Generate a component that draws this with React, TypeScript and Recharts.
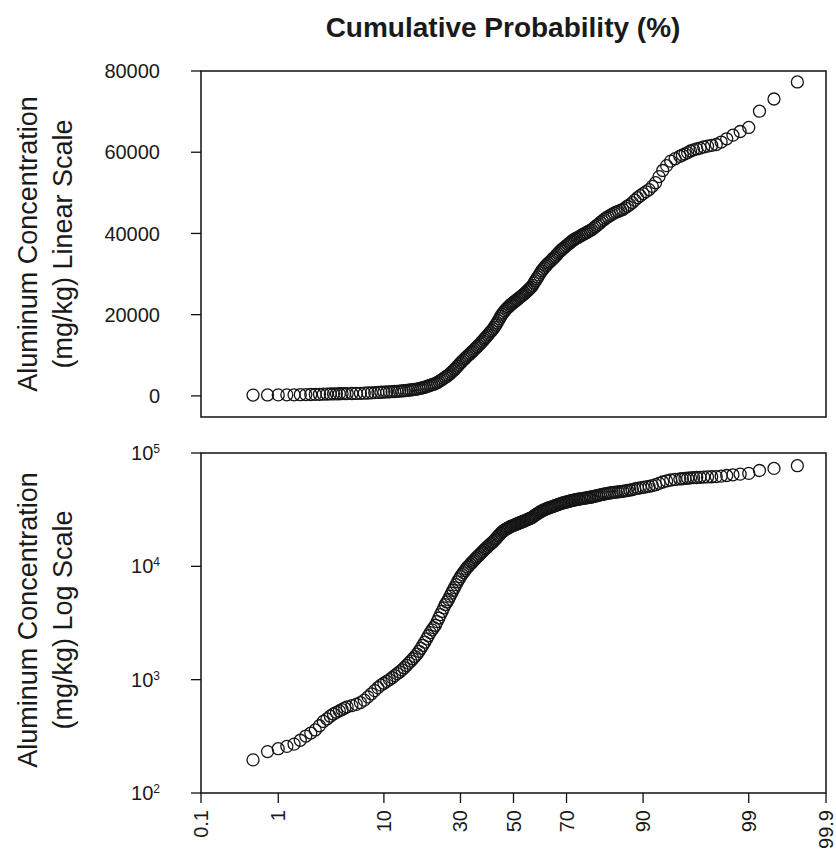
import { ScatterChart, Scatter, XAxis, YAxis, ReferenceArea } from 'recharts';

const FONT = '"Liberation Sans", Arial, sans-serif';
const INK = '#1a1a1a';

// x axis: cumulative probability (%) on a normal-probability scale
const probTicks = [0.1, 1, 10, 30, 50, 70, 90, 99, 99.9];
const probTickLabels = ['0.1', '1', '10', '30', '50', '70', '90', '99', '99.9'];
const linearTicks = [0, 20000, 40000, 60000, 80000];
const logTicks = [100, 1000, 10000, 100000];

// plotting positions (%)
const cumulativePct = [
  0.5, 0.75, 1, 1.25, 1.5, 1.75, 2, 2.25, 2.5, 2.75, 3, 3.25, 3.5, 3.75, 4, 4.25, 4.5, 4.75,
  5, 5.5, 6, 6.5, 7, 7.5, 8, 8.5, 9, 9.5,
  10, 10.5, 11, 11.5, 12, 12.5, 13, 13.5, 14, 14.5,
  15, 15.5, 16, 16.5, 17, 17.5, 18, 18.5, 19, 19.5,
  20, 20.5, 21, 21.5, 22, 22.5, 23, 23.5, 24, 24.5,
  25, 25.5, 26, 26.5, 27, 27.5, 28, 28.5, 29, 29.5,
  30, 30.5, 31, 31.5, 32, 32.5, 33, 33.5, 34, 34.5,
  35, 35.5, 36, 36.5, 37, 37.5, 38, 38.5, 39, 39.5,
  40, 40.5, 41, 41.5, 42, 42.5, 43, 43.5, 44, 44.5,
  45, 45.5, 46, 46.5, 47, 47.5, 48, 48.5, 49, 49.5,
  50, 50.5, 51, 51.5, 52, 52.5, 53, 53.5, 54, 54.5,
  55, 55.5, 56, 56.5, 57, 57.5, 58, 58.5, 59, 59.5,
  60, 60.5, 61, 61.5, 62, 62.5, 63, 63.5, 64, 64.5,
  65, 65.5, 66, 66.5, 67, 67.5, 68, 68.5, 69, 69.5,
  70, 70.5, 71, 71.5, 72, 72.5, 73, 73.5, 74, 74.5,
  75, 75.5, 76, 76.5, 77, 77.5, 78, 78.5, 79, 79.5,
  80, 80.5, 81, 81.5, 82, 82.5, 83, 83.5, 84, 84.5,
  85, 85.5, 86, 86.5, 87, 87.5, 88, 88.5, 89, 89.5,
  90, 90.5, 91, 91.5, 92, 92.5, 93, 93.5, 94, 94.5,
  95, 95.25, 95.5, 95.75, 96, 96.25, 96.5, 96.75, 97, 97.25, 97.5, 97.75,
  98, 98.25, 98.5, 98.75, 99, 99.25, 99.5, 99.75,
];

// aluminum concentration (mg/kg), same order as cumulativePct
const aluminumMgKg = [
  196, 232, 246, 258, 270, 292, 318, 338, 360, 392, 428, 450, 476, 498, 515, 530, 545, 562,
  575, 590, 605, 628, 660, 705, 750, 800, 850, 895,
  930, 965, 1000, 1040, 1085, 1130, 1170, 1220, 1275, 1335,
  1400, 1460, 1530, 1600, 1680, 1780, 1890, 2010, 2140, 2290,
  2440, 2600, 2750, 2880, 3020, 3250, 3500, 3750, 4000, 4300,
  4600, 4850, 5100, 5450, 5800, 6150, 6500, 6900, 7300, 7700,
  8100, 8450, 8800, 9150, 9500, 9850, 10150, 10450, 10800, 11100,
  11450, 11800, 12100, 12450, 12800, 13150, 13500, 13900, 14250, 14600,
  15000, 15400, 15750, 16100, 16500, 16950, 17450, 17950, 18500, 19000,
  19600, 20100, 20500, 20900, 21300, 21600, 21900, 22200, 22500, 22750,
  23000, 23250, 23500, 23750, 24000, 24250, 24500, 24750, 25000, 25300,
  25600, 25900, 26200, 26500, 26800, 27200, 27800, 28300, 28800, 29300,
  29800, 30300, 30800, 31200, 31600, 32000, 32350, 32700, 33000, 33300,
  33650, 34000, 34300, 34700, 35100, 35450, 35800, 36100, 36400, 36700,
  37000, 37300, 37600, 37900, 38200, 38450, 38700, 38900, 39100, 39350,
  39550, 39800, 40000, 40250, 40450, 40700, 40900, 41250, 41600, 41950,
  42300, 42700, 43100, 43450, 43800, 44100, 44400, 44700, 45000, 45250,
  45450, 45700, 45900, 46300, 46700, 47100, 47600, 48200, 48800, 49300,
  49800, 50300, 50800, 51600, 52500, 54000, 55500, 56700, 57800, 58400,
  59000, 59300, 59600, 59900, 60300, 60600, 60800, 61000, 61300, 61500, 61700, 61900,
  62500, 63300, 64200, 65100, 66100, 70100, 73100, 77300,
];

// inverse normal CDF (Acklam) -> probability axis transform
function probit(p: number): number {
  const a = [-39.69683028665376, 220.9460984245205, -275.9285104469687, 138.357751867269, -30.66479806614716, 2.506628277459239];
  const b = [-54.47609879822406, 161.5858368580409, -155.6989798598866, 66.80131188771972, -13.28068155288572];
  const c = [-0.007784894002430293, -0.3223964580411365, -2.400758277161838, -2.549671834953096, 4.374664141464968, 2.938163982698783];
  const d = [0.007784695709041462, 0.3224671290700398, 2.445134137142996, 3.754408661907416];
  const lo = 0.02425;
  if (p < lo) {
    const q = Math.sqrt(-2 * Math.log(p));
    return (((((c[0] * q + c[1]) * q + c[2]) * q + c[3]) * q + c[4]) * q + c[5]) / ((((d[0] * q + d[1]) * q + d[2]) * q + d[3]) * q + 1);
  }
  if (p > 1 - lo) {
    const q = Math.sqrt(-2 * Math.log(1 - p));
    return -(((((c[0] * q + c[1]) * q + c[2]) * q + c[3]) * q + c[4]) * q + c[5]) / ((((d[0] * q + d[1]) * q + d[2]) * q + d[3]) * q + 1);
  }
  const q = p - 0.5;
  const r = q * q;
  return ((((((a[0] * r + a[1]) * r + a[2]) * r + a[3]) * r + a[4]) * r + a[5]) * q) / (((((b[0] * r + b[1]) * r + b[2]) * r + b[3]) * r + b[4]) * r + 1);
}

const points = cumulativePct.map((p, i) => ({ z: probit(p / 100), conc: aluminumMgKg[i] }));
const probTickZ = probTicks.map((p) => probit(p / 100));
const zMin = probTickZ[0];
const zMax = probTickZ[probTickZ.length - 1];

const Ring = (props: any) => {
  const { cx, cy } = props;
  if (cx == null || cy == null) return <g />;
  return <circle cx={cx} cy={cy} r={6} fill="none" stroke="#151515" strokeWidth={1.3} />;
};

const ProbTick = ({ x, y, payload }: any) => {
  const idx = probTickZ.findIndex((z) => Math.abs(z - payload.value) < 1e-6);
  return (
    <text
      x={x}
      y={y}
      transform={`rotate(-90, ${x}, ${y})`}
      textAnchor="end"
      dominantBaseline="central"
      fontSize={20}
      fill={INK}
      fontFamily={FONT}
    >
      {idx >= 0 ? probTickLabels[idx] : ''}
    </text>
  );
};

const PowTick = ({ x, y, payload }: any) => (
  <text x={x} y={y} dy="0.355em" textAnchor="end" fontSize={20} fill={INK} fontFamily={FONT}>
    10
    <tspan dy="-0.6em" fontSize={12}>
      {Math.round(Math.log10(payload.value))}
    </tspan>
  </text>
);

const yLabelStyle = (cy: number): React.CSSProperties => ({
  position: 'absolute',
  left: 45.5 - 200,
  top: cy - 35,
  width: 400,
  height: 70,
  transform: 'rotate(-90deg)',
  transformOrigin: 'center',
  textAlign: 'center',
  lineHeight: '35px',
  fontSize: 27,
  fontFamily: FONT,
  color: INK,
  whiteSpace: 'nowrap',
});

export default function App() {
  return (
    <div style={{ position: 'absolute', left: 0, top: 0, width: 836, height: 863, background: '#fff', overflow: 'hidden' }}>
      <div
        style={{
          position: 'absolute',
          left: 203,
          top: 14,
          width: 600,
          textAlign: 'center',
          fontFamily: FONT,
          fontWeight: 700,
          fontSize: 28,
          lineHeight: '28px',
          color: INK,
        }}
      >
        Cumulative Probability (%)
      </div>

      <div style={yLabelStyle(244)}>
        Aluminum Concentration
        <br />
        (mg/kg) Linear Scale
      </div>
      <div style={yLabelStyle(620)}>
        Aluminum Concentration
        <br />
        (mg/kg) Log Scale
      </div>

      {/* linear panel */}
      <div style={{ position: 'absolute', left: 0, top: 0 }}>
        <ScatterChart width={836} height={430} margin={{ top: 71, right: 10, bottom: 0, left: 0 }}>
          <XAxis
            type="number"
            dataKey="z"
            domain={[zMin, zMax]}
            ticks={probTickZ}
            interval={0}
            allowDataOverflow
            height={13}
            tick={false}
            tickSize={10}
            axisLine={false}
            tickLine={{ stroke: '#111', strokeWidth: 1.3 }}
          />
          <YAxis
            type="number"
            dataKey="conc"
            domain={[-5200, 80000]}
            ticks={linearTicks}
            interval={0}
            allowDataOverflow
            width={201}
            tickSize={10}
            tickMargin={31}
            axisLine={false}
            tickLine={{ stroke: '#111', strokeWidth: 1.3 }}
            tick={{ fill: INK, fontSize: 20, fontFamily: FONT }}
          />
          <ReferenceArea
            x1={zMin}
            x2={zMax}
            y1={-5200}
            y2={80000}
            fill="none"
            stroke="#111"
            strokeWidth={1.5}
            ifOverflow="visible"
          />
          <Scatter data={points} shape={Ring} isAnimationActive={false} />
        </ScatterChart>
      </div>

      {/* log panel */}
      <div style={{ position: 'absolute', left: 0, top: 440 }}>
        <ScatterChart width={836} height={423} margin={{ top: 13, right: 10, bottom: 0, left: 0 }}>
          <XAxis
            type="number"
            dataKey="z"
            domain={[zMin, zMax]}
            ticks={probTickZ}
            interval={0}
            allowDataOverflow
            height={70}
            tickSize={10}
            tickMargin={7}
            axisLine={false}
            tickLine={{ stroke: '#111', strokeWidth: 1.3 }}
            tick={ProbTick}
          />
          <YAxis
            type="number"
            dataKey="conc"
            scale="log"
            domain={[100, 100000]}
            ticks={logTicks}
            interval={0}
            allowDataOverflow
            width={201}
            tickSize={10}
            tickMargin={31}
            axisLine={false}
            tickLine={{ stroke: '#111', strokeWidth: 1.3 }}
            tick={PowTick}
          />
          <ReferenceArea
            x1={zMin}
            x2={zMax}
            y1={100}
            y2={100000}
            fill="none"
            stroke="#111"
            strokeWidth={1.5}
            ifOverflow="visible"
          />
          <Scatter data={points} shape={Ring} isAnimationActive={false} />
        </ScatterChart>
      </div>
    </div>
  );
}
